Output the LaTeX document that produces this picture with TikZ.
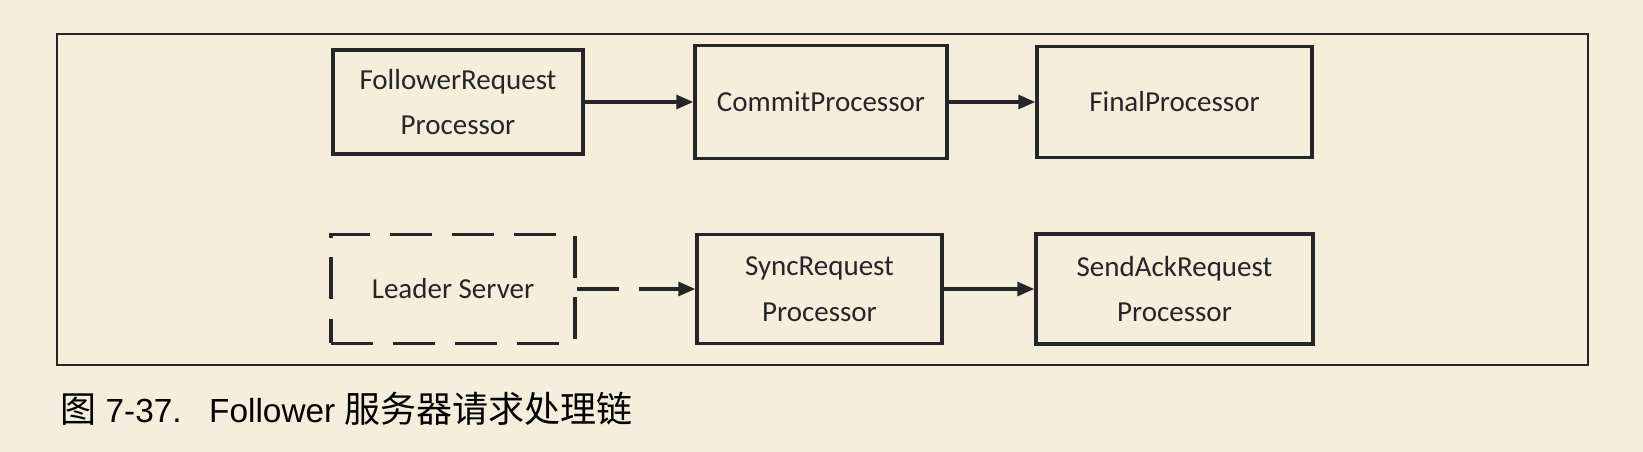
\documentclass[tikz,border=0pt]{standalone}
\usepackage{fontspec}
\setmainfont{Carlito}
\newfontfamily\capfont{Liberation Sans}
\newfontfamily\cjk{Noto Sans CJK SC}
\usetikzlibrary{arrows.meta}
\definecolor{paper}{HTML}{F5EEDC}
\definecolor{ink}{HTML}{262626}
\tikzset{
	procbox/.style={draw=ink,line width=2pt,rectangle,align=center,text=ink,
		font=\fontsize{16.5}{26}\selectfont},
	leaderbox/.style={procbox,dash pattern=on 0.84cm off 0.4cm},
	flow/.style={->,draw=ink,line width=1.8pt},
}
\begin{document}
\begin{tikzpicture}[>={Triangle[length=0.34cm,width=0.28cm]},x=0.02cm,y=-0.02cm]
	\fill[paper] (0,0) rectangle (1643,452);
	\draw[ink,line width=0.8pt] (57,34) rectangle (1588,365);
	% upper row
	\node[procbox,minimum width=5cm,minimum height=2.08cm] (fr) at (458,102) {FollowerRequest\\Processor};
	\node[procbox,minimum width=5.04cm,minimum height=2.26cm] (commit) at (821,102) {CommitProcessor};
	\node[procbox,minimum width=5.5cm,minimum height=2.22cm] (final) at (1174.5,102) {FinalProcessor};
	% lower row
	\node[leaderbox,minimum width=4.88cm,minimum height=2.18cm] (leader) at (453,289) {Leader Server};
	\node[procbox,minimum width=4.9cm,minimum height=2.18cm] (sync) at (819.5,289) {SyncRequest\\Processor};
	\node[procbox,minimum width=5.54cm,minimum height=2.2cm] (sendack) at (1174.5,289) {SendAckRequest\\Processor};
	\draw[flow] (fr) -- (commit);
	\draw[flow] (commit) -- (final);
	\draw[flow,dash pattern=on 0.84cm off 0.4cm] (leader) -- (sync);
	\draw[flow] (sync) -- (sendack);
	% caption
	\node[anchor=base west,inner sep=0pt,text=black,font=\capfont\fontsize{19}{22}\selectfont] (caption) at (60,422)
		{{\cjk\fontsize{20.5}{22}\selectfont 图} 7-37.\hspace{0.55cm}Follower {\cjk\fontsize{20.5}{22}\selectfont 服务器请求处理链}};
\end{tikzpicture}
\end{document}
